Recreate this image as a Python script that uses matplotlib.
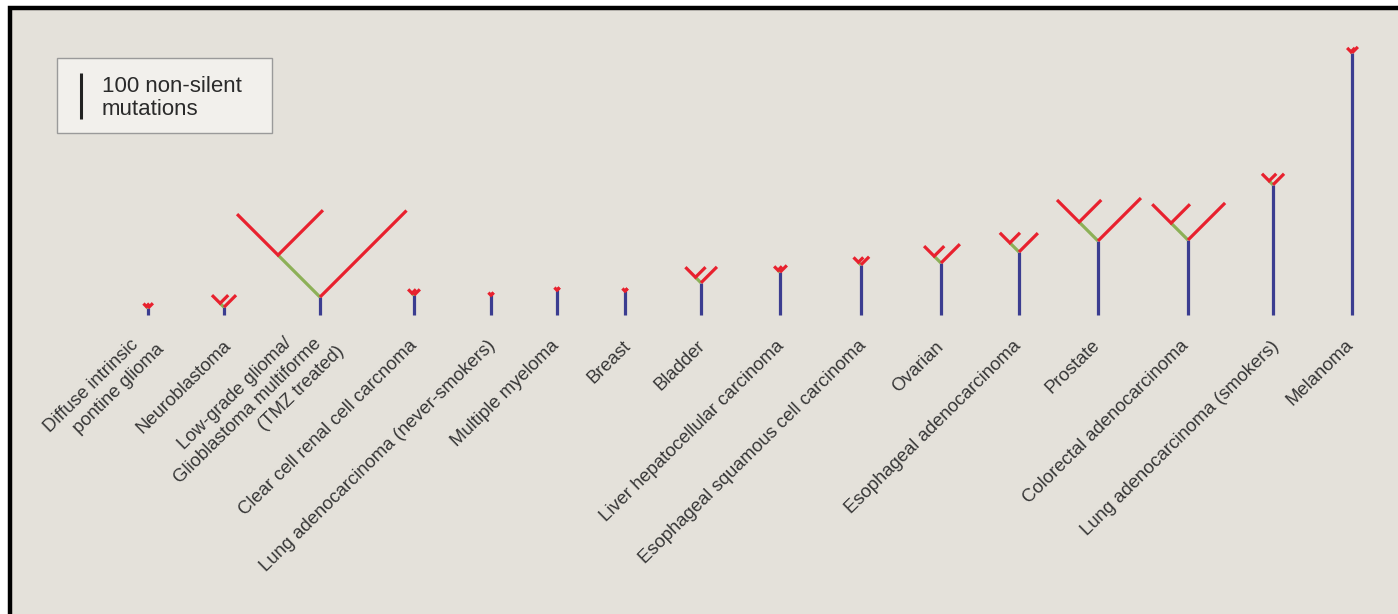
# ================================================================
# 0. Section: IMPORTS
# ================================================================
import numpy as np
from matplotlib import pyplot as plt
from matplotlib.patches import Rectangle


# ================================================================
# 1. Section: INPUTS
# ================================================================
# tumour types, left to right
TUMOURS = [
    "Diffuse intrinsic\npontine glioma",
    "Neuroblastoma",
    "Low-grade glioma/\nGlioblastoma multiforme\n(TMZ treated)",
    "Clear cell renal cell carcnoma",
    "Lung adenocarcinoma (never-smokers)",
    "Multiple myeloma",
    "Breast",
    "Bladder",
    "Liver hepatocellular carcinoma",
    "Esophageal squamous cell carcinoma",
    "Ovarian",
    "Esophageal adenocarcinoma",
    "Prostate",
    "Colorectal adenocarcinoma",
    "Lung adenocarcinoma (smokers)",
    "Melanoma",
]

# branch lengths, in non-silent mutations
TRUNK = [15, 17, 39, 43, 43, 54, 52, 70, 93, 109, 113, 137, 161, 163, 283, 570]
GREEN = [5, 12, 129, 6, 0, 0, 0, 17, 6, 8, 21, 28, 58, 52, 12, 3]
SUB_LEFT = [9, 25, 126, 12, 8, 8, 8, 31, 12, 15, 31, 31, 68, 58, 22, 12]
SUB_RIGHT = [9, 25, 138, 12, 8, 8, 8, 31, 12, 15, 31, 31, 68, 58, 22, 12]
RIGHT_ARM = [15, 37, 266, 18, 8, 8, 8, 49, 21, 25, 58, 58, 132, 114, 34, 18]

SCALE_BAR = 100  # mutations

# layout (pixels)
TREE_X = [148, 224, 320, 414, 491, 557, 625, 701, 780, 861, 941, 1019, 1098, 1188, 1273, 1352]
LABEL_X = [130, 223, 283, 409, 487, 551, 622, 697, 776, 858, 935, 1012, 1091, 1180, 1271, 1345]
LABEL_Y = [336, 337, 334, 337, 337, 337, 337, 337, 337, 337, 338, 337, 337, 337, 338, 336]
# shift of each extra line's end along the text direction (multi-line labels)
LINE_SHIFT = {0: [0, 15], 2: [0, 20, 31]}
LABEL_ROT = 44.5
LINE_STEP = 21.5
BASE_Y = 315
PX_PER_MUT = 0.46

BG = "#e4e1da"
BLUE = "#3b3d90"
GREEN_C = "#8cb057"
RED = "#e8212e"
TEXT_C = "#363636"


# ================================================================
# 2. Section: FUNCTIONS
# ================================================================
def draw_tree(ax, x, trunk, green, sub_l, sub_r, right):
    c = PX_PER_MUT * np.cos(np.pi / 4)
    y_j = BASE_Y - trunk * PX_PER_MUT
    gx, gy = x - green * c, y_j - green * c
    lw = 2.3

    ax.plot([x, x], [BASE_Y, y_j], color=BLUE, lw=lw, solid_capstyle="butt")
    if green > 0:
        ax.plot([x, gx], [y_j, gy], color=GREEN_C, lw=lw, solid_capstyle="butt")
    ax.plot([gx - sub_l * c, gx, gx + sub_r * c],
            [gy - sub_l * c, gy, gy - sub_r * c],
            color=RED, lw=lw, solid_capstyle="butt", solid_joinstyle="miter")
    ax.plot([x, x + right * c], [y_j, y_j - right * c],
            color=RED, lw=lw, solid_capstyle="butt")


def draw_label(ax, x, y, label, shifts):
    th = np.deg2rad(LABEL_ROT)
    u = np.array([np.cos(th), -np.sin(th)])   # along text (y axis points down)
    n = np.array([np.sin(th), np.cos(th)])    # towards next line
    for j, line in enumerate(label.split("\n")):
        px, py = np.array([x, y]) + j * LINE_STEP * n + shifts[j] * u
        ax.text(px, py, line, rotation=LABEL_ROT, rotation_mode="anchor",
                ha="right", va="top", fontsize=13.3,
                family="Liberation Sans", color=TEXT_C)


# ================================================================
# 3. Section: MAIN
# ================================================================
if __name__ == "__main__":
    fig = plt.figure(figsize=(13.98, 6.14), dpi=100, facecolor="white")
    ax = fig.add_axes([0, 0, 1, 1])
    ax.set_xlim(0, 1398)
    ax.set_ylim(614, 0)
    ax.axis("off")

    # panel with black frame (only top/left visible)
    ax.add_patch(Rectangle((10, 8), 1600, 800, facecolor=BG,
                           edgecolor="black", lw=3.2))

    # scale legend
    ax.add_patch(Rectangle((57, 58), 215, 75, facecolor="#f2f0ec",
                           edgecolor="#9a9a9a", lw=1))
    ax.plot([81, 81], [119, 119 - SCALE_BAR * PX_PER_MUT],
            color="#222222", lw=2.2, solid_capstyle="butt")
    ax.text(102, 98, f"{SCALE_BAR} non-silent\nmutations",
            fontsize=16, family="Liberation Sans", color="#2a2a2a",
            va="center", ha="left", linespacing=1.15)

    for i in range(len(TUMOURS)):
        draw_tree(ax, TREE_X[i], TRUNK[i], GREEN[i],
                  SUB_LEFT[i], SUB_RIGHT[i], RIGHT_ARM[i])
        draw_label(ax, LABEL_X[i], LABEL_Y[i], TUMOURS[i],
                   LINE_SHIFT.get(i, [0]))

    fig.savefig("out.png", dpi=100, facecolor="white")
